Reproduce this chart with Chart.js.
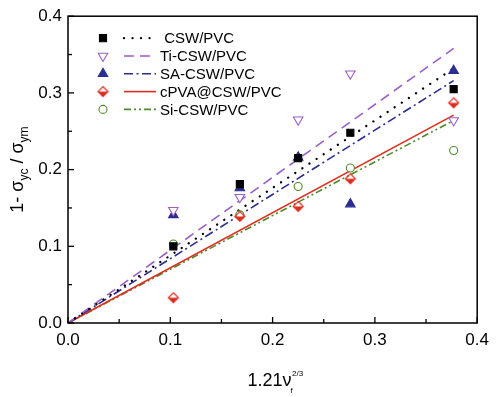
<!DOCTYPE html>
<html><head><meta charset="utf-8">
<script src="https://cdn.jsdelivr.net/npm/chart.js@4/dist/chart.umd.min.js"></script>
<style>html,body{margin:0;padding:0;background:#fff}#wrap{width:496px;height:397px;position:relative}</style>
</head><body><div id="wrap"><canvas id="c"></canvas></div>
<script>
// ---- data ----
const xVals = [0.103, 0.168, 0.225, 0.276, 0.377];
const cswVals = [0.100, 0.181, 0.215, 0.248, 0.305];
const tiVals = [0.147, 0.164, 0.265, 0.325, 0.264];
const saVals = [0.141, 0.176, 0.216, 0.155, 0.329];
const cpvaVals = [0.033, 0.139, 0.152, 0.188, 0.287];
const siVals = [0.103, 0.141, 0.178, 0.202, 0.225];
const fitX = [0, 0.377];
const cswFit = [0, 0.332];
const tiFit = [0, 0.358];
const saFit = [0, 0.316];
const cpvaFit = [0, 0.271];
const siFit = [0, 0.264];
const seriesNames = [' CSW/PVC', 'Ti-CSW/PVC', 'SA-CSW/PVC', 'cPVA@CSW/PVC', 'Si-CSW/PVC'];
const xTickLabels = ['0.0', '0.1', '0.2', '0.3', '0.4'];
const yTickLabels = ['0.0', '0.1', '0.2', '0.3', '0.4'];

const FONT = '"Liberation Sans", Arial, sans-serif';
const C_BLACK = '#000000', C_PURPLE = '#9B5FC6', C_BLUE = '#2B2E8F', C_RED = '#DD2E1E', C_GREEN = '#4E8A2C';

// half-filled diamond marker
function makeDiamond() {
  const s = 13, cv = document.createElement('canvas');
  cv.width = s; cv.height = s;
  const g = cv.getContext('2d');
  const c = s / 2, r = 5;
  g.beginPath(); g.moveTo(c - r, c); g.lineTo(c, c + r); g.lineTo(c + r, c); g.closePath();
  g.fillStyle = C_RED; g.fill();
  g.beginPath(); g.moveTo(c, c - r); g.lineTo(c + r, c); g.lineTo(c, c + r); g.lineTo(c - r, c); g.closePath();
  g.lineWidth = 1.2; g.strokeStyle = C_RED; g.stroke();
  return cv;
}
const diamondImg = makeDiamond();

const pts = (ys) => xVals.map((x, i) => ({x, y: ys[i]}));
const fit = (ys) => fitX.map((x, i) => ({x, y: ys[i]}));

const styles = [
  {color: C_BLACK, dash: [0.01, 8.5], width: 2.3, cap: 'round', point: {pointStyle: 'rect', radius: 5, rotation: 0, fill: C_BLACK}},
  {color: C_PURPLE, dash: [10, 6], width: 1.6, cap: 'butt', point: {pointStyle: 'triangle', radius: 5.5, rotation: 180, fill: '#ffffff'}},
  {color: C_BLUE, dash: [9, 3.5, 2, 3.5], width: 1.6, cap: 'butt', point: {pointStyle: 'triangle', radius: 5.5, rotation: 0, fill: C_BLUE}},
  {color: C_RED, dash: [], width: 1.6, cap: 'butt', point: {pointStyle: diamondImg, radius: 5, rotation: 0, fill: C_RED}},
  {color: C_GREEN, dash: [7, 3, 2, 3, 2, 3], width: 1.6, cap: 'butt', point: {pointStyle: 'circle', radius: 4, rotation: 0, fill: '#ffffff'}},
];
const valSets = [cswVals, tiVals, saVals, cpvaVals, siVals];
const fitSets = [cswFit, tiFit, saFit, cpvaFit, siFit];

const datasets = [];
styles.forEach((s, i) => {
  datasets.push({
    label: seriesNames[i] + ' fit', data: fit(fitSets[i]), showLine: true, pointRadius: 0,
    borderColor: s.color, borderWidth: s.width, borderDash: s.dash, borderCapStyle: s.cap, fill: false, order: 2
  });
});
styles.forEach((s, i) => {
  datasets.push({
    label: seriesNames[i], data: pts(valSets[i]), showLine: false,
    pointStyle: s.point.pointStyle, pointRadius: s.point.radius, pointRotation: s.point.rotation,
    pointBackgroundColor: s.point.fill, pointBorderColor: s.color, pointBorderWidth: 1.1, order: 1
  });
});

const deco = {
  id: 'deco',
  afterDraw(chart) {
    const ctx = chart.ctx, ca = chart.chartArea, xs = chart.scales.x, ys = chart.scales.y;
    ctx.save();
    // frame
    ctx.strokeStyle = '#000'; ctx.lineWidth = 1.5; ctx.setLineDash([]);
    ctx.strokeRect(ca.left, ca.top, ca.right - ca.left, ca.bottom - ca.top);
    // inward ticks
    ctx.lineWidth = 1.3;
    for (let k = 0; k <= 8; k++) {
      const v = k * 0.05, len = k % 2 === 0 ? 6 : 4;
      const px = xs.getPixelForValue(v);
      ctx.beginPath(); ctx.moveTo(px, ca.bottom); ctx.lineTo(px, ca.bottom - len); ctx.stroke();
      const py = ys.getPixelForValue(v);
      ctx.beginPath(); ctx.moveTo(ca.left, py); ctx.lineTo(ca.left + len, py); ctx.stroke();
    }
    // legend
    const lx = ca.left + 35, rowY0 = ca.top + 22, dy = 17.8;
    styles.forEach((s, i) => {
      const y = rowY0 + dy * i;
      // line sample
      ctx.save();
      ctx.strokeStyle = s.color; ctx.lineWidth = s.width; ctx.setLineDash(s.dash); ctx.lineCap = s.cap;
      ctx.beginPath(); ctx.moveTo(ca.left + 56, y); ctx.lineTo(ca.left + 88, y); ctx.stroke();
      ctx.restore();
      // marker
      ctx.save();
      ctx.fillStyle = s.point.fill; ctx.strokeStyle = s.color; ctx.lineWidth = 1.1; ctx.setLineDash([]);
      Chart.helpers.drawPoint(ctx, {pointStyle: s.point.pointStyle, radius: s.point.radius, rotation: s.point.rotation, borderWidth: 1.1}, lx, y);
      ctx.restore();
      // text
      ctx.fillStyle = '#000'; ctx.font = '15px ' + FONT; ctx.textBaseline = 'middle'; ctx.textAlign = 'left';
      ctx.fillText(seriesNames[i], ca.left + 92, y + 1);
    });
    // x title
    ctx.fillStyle = '#000'; ctx.textBaseline = 'alphabetic'; ctx.textAlign = 'left';
    ctx.font = '18px ' + FONT;
    const mainX = '1.21\u03BD';
    const mw = ctx.measureText(mainX).width;
    ctx.font = '8px ' + FONT;
    const sw = ctx.measureText('2/3').width;
    const cx = 275, total = mw + sw;
    const sx = cx - total / 2;
    ctx.font = '18px ' + FONT;
    ctx.fillText(mainX, sx, 386);
    ctx.font = '8px ' + FONT;
    ctx.fillText('2/3', sx + mw + 0.5, 376);
    ctx.fillText('f', sx + mw - 1, 393);
    // y title (rotated)
    ctx.save();
    ctx.translate(23, (ca.top + ca.bottom) / 2);
    ctx.rotate(-Math.PI / 2);
    const parts = [['1- \u03C3', 18, 0], ['yc', 12, 4.5], [' / \u03C3', 18, 0], ['ym', 12, 4.5]];
    let tw = 0;
    parts.forEach(p => { ctx.font = p[1] + 'px ' + FONT; tw += ctx.measureText(p[0]).width; });
    let px = -tw / 2;
    parts.forEach(p => {
      ctx.font = p[1] + 'px ' + FONT;
      ctx.fillText(p[0], px, p[2]);
      px += ctx.measureText(p[0]).width;
    });
    ctx.restore();
    ctx.restore();
  }
};

new Chart(document.getElementById('c'), {
  type: 'scatter',
  data: {datasets},
  options: {
    responsive: true, maintainAspectRatio: false, animation: false, devicePixelRatio: 1,
    layout: {padding: {left: 0, top: 15, right: 15, bottom: 0}},
    plugins: {legend: {display: false}, tooltip: {enabled: false}},
    scales: {
      x: {
        type: 'linear', min: 0, max: 0.4,
        afterFit: s => { s.height = 74; },
        afterBuildTicks: s => { s.ticks = xTickLabels.map(t => ({value: parseFloat(t)})); },
        ticks: {callback: (v) => xTickLabels.find(t => Math.abs(parseFloat(t) - v) < 1e-6) || '', font: {family: FONT, size: 17}, color: '#000', padding: 7, maxRotation: 0, autoSkip: false},
        grid: {display: false, drawTicks: false}, border: {display: false}
      },
      y: {
        type: 'linear', min: 0, max: 0.4,
        afterFit: s => { s.width = 68; },
        afterBuildTicks: s => { s.ticks = yTickLabels.map(t => ({value: parseFloat(t)})); },
        ticks: {callback: (v) => yTickLabels.find(t => Math.abs(parseFloat(t) - v) < 1e-6) || '', font: {family: FONT, size: 17}, color: '#000', padding: 6, autoSkip: false},
        grid: {display: false, drawTicks: false}, border: {display: false}
      }
    }
  },
  plugins: [deco]
});
</script></body></html>
